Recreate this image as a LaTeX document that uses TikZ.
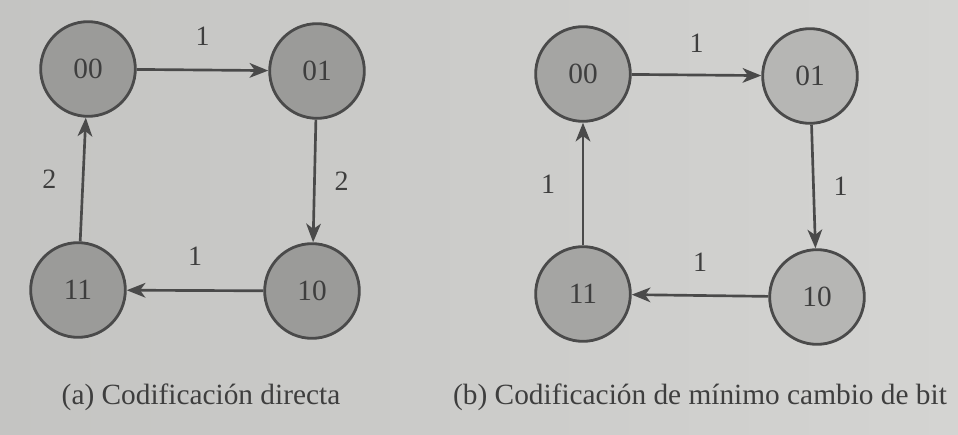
\documentclass[tikz,border=0pt]{standalone}
\usepackage{fontspec}
\setmainfont{Liberation Serif}
\usetikzlibrary{arrows.meta}

\definecolor{pageleft}{RGB}{196,196,194}
\definecolor{pageright}{RGB}{212,212,210}
\definecolor{ringgray}{RGB}{74,74,74}
\definecolor{inkgray}{RGB}{62,62,62}
\definecolor{darkfill}{RGB}{155,155,153}
\definecolor{midfill}{RGB}{165,165,163}
\definecolor{lightfill}{RGB}{182,182,180}

\tikzset{
	estado/.style={circle, draw=ringgray, line width=2.1pt, fill=darkfill, minimum size=71pt, inner sep=0pt, text=inkgray, font=\fontsize{22}{26}\selectfont},
	flecha/.style={draw=ringgray, line width=2pt, -{Stealth[length=14pt,width=11pt,inset=4pt]}},
	peso/.style={inner sep=0pt, text=inkgray, font=\fontsize{21}{25}\selectfont},
	pie/.style={inner sep=0pt, text=inkgray, font=\fontsize{22}{26}\selectfont}
}

\begin{document}
\begin{tikzpicture}[x=0.75pt,y=0.75pt,yscale=-1,xscale=1]
	%Background
	\useasboundingbox (0,0) rectangle (958,435);
	\fill [left color=pageleft, right color=pageright] (0,0) rectangle (958,435);
	
	%Circles (a)
	\node [estado] (a00) at (88,69) {00};
	\node [estado] (a01) at (317,71) {01};
	\node [estado] (a10) at (312,291) {10};
	\node [estado] (a11) at (78,290) {11};
	
	%Straight Lines (a)
	\draw [flecha] (a00) -- node [peso, midway, above=17pt] {1} (a01);
	\draw [flecha] (a01) -- node [peso, midway, right=14pt] {2} (a10);
	\draw [flecha] (a10) -- node [peso, midway, above=18pt] {1} (a11);
	\draw [flecha] (a11) -- node [peso, midway, left=19pt] {2} (a00);
	
	%Circles (b)
	\node [estado, fill=midfill] (b00) at (583,74) {00};
	\node [estado, fill=lightfill] (b01) at (810,76) {01};
	\node [estado, fill=lightfill] (b10) at (817,297) {10};
	\node [estado, fill=midfill] (b11) at (583,294) {11};
	
	%Straight Lines (b)
	\draw [flecha] (b00) -- node [peso, midway, above=16pt] {1} (b01);
	\draw [flecha] (b01) -- node [peso, midway, right=14pt] {1} (b10);
	\draw [flecha] (b10) -- node [peso, midway, above=17pt] {1} (b11);
	\draw [flecha] (b11) -- node [peso, midway, left=20pt] {1} (b00);
	
	%Captions
	\node [pie] (pa) at (201,397) {(a) Codificación directa};
	\node [pie] (pb) at (700,397) {(b) Codificación de mínimo cambio de bit};
	
\end{tikzpicture}
\end{document}
